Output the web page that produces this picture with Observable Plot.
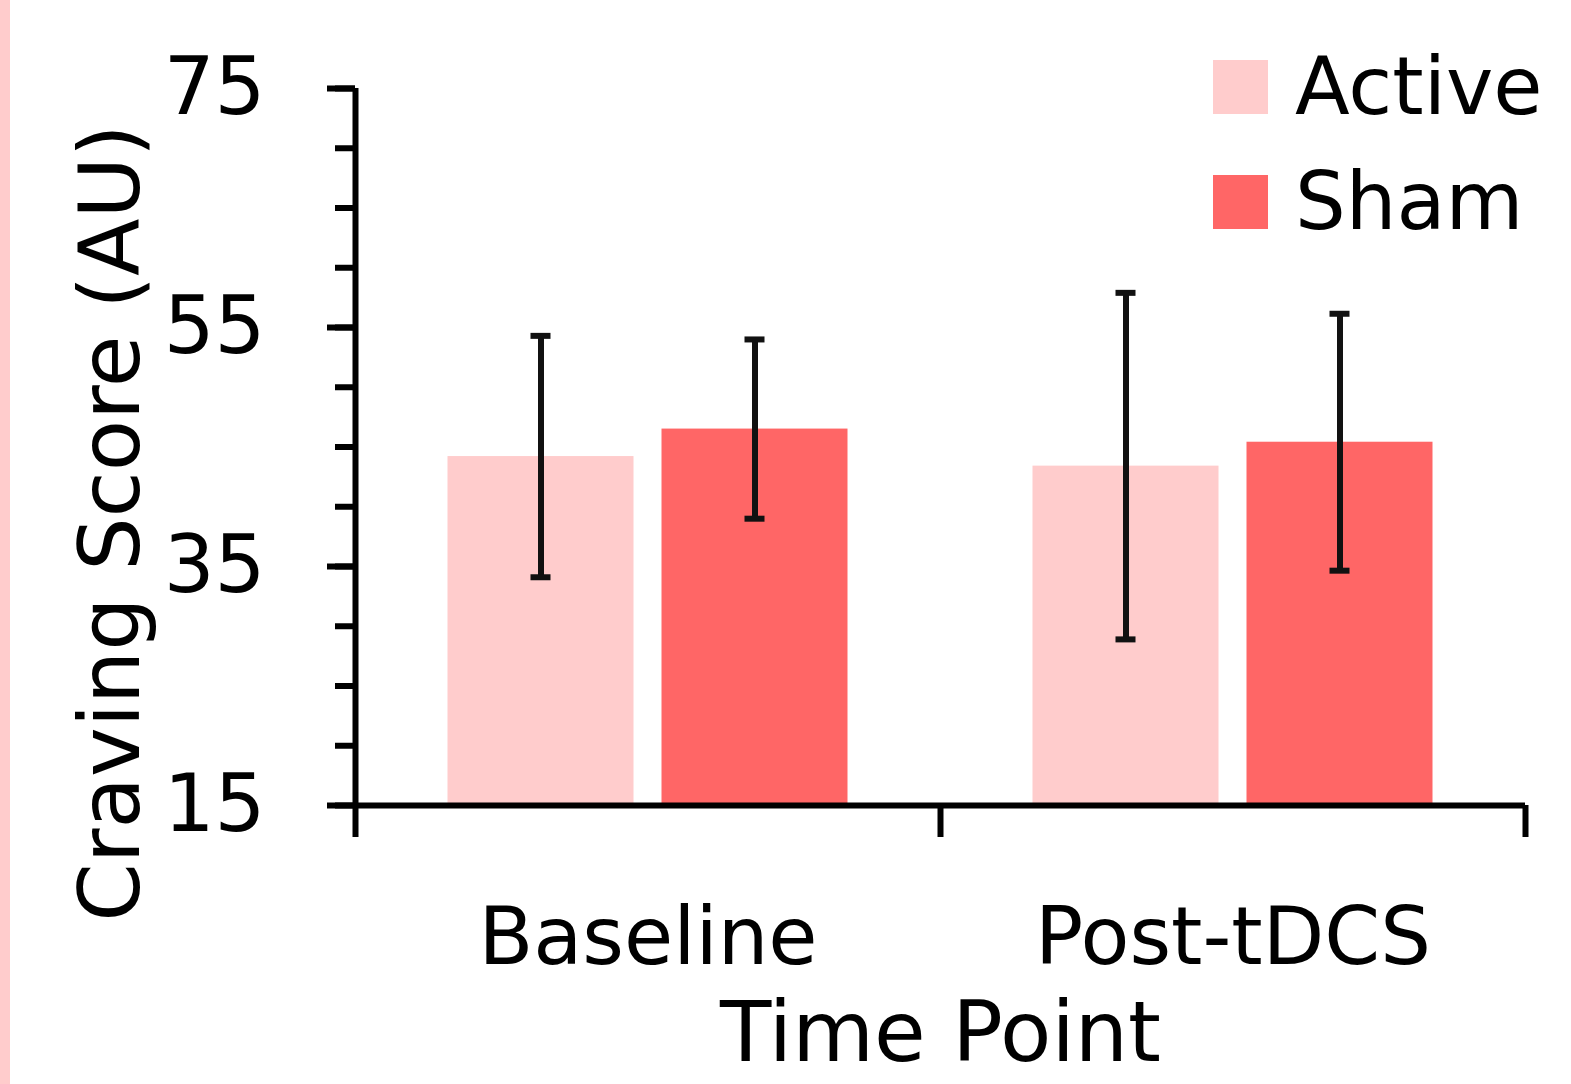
<!DOCTYPE html>
<html>
<head>
<meta charset="utf-8">
<script src="https://cdn.jsdelivr.net/npm/d3@7"></script>
<script src="https://cdn.jsdelivr.net/npm/@observablehq/plot@0.6"></script>
<style>
  html, body { margin: 0; padding: 0; background: #fff; }
  #wrap { position: relative; width: 1571px; height: 1084px; overflow: hidden; font-family: "DejaVu Sans", sans-serif; }
  #stripe { position: absolute; left: 0; top: 0; width: 10px; height: 1084px; background: #FFCCCC; }
  #chart { position: absolute; left: 0; top: 0; }
  #legend { position: absolute; left: 1213px; top: 30px; }
  .item { display: flex; align-items: center; height: 117px; margin-top: -2px; }
  .sw { width: 55px; height: 54px; margin-right: 27px; }
  .lab { font-size: 80px; color: #000; line-height: 1; }
</style>
</head>
<body>
<div id="wrap"><div id="stripe"></div><div id="chart"></div><div id="legend"></div></div>
<script>
// ---- data ----
const timePoints = ["Baseline", "Post-tDCS"];
const groups = ["Active", "Sham"];
const groupColors = ["#FFCCCC", "#FF6666"];
const activeMeans = [44.2, 43.4];
const shamMeans = [46.5, 45.4];
const activeErrors = [10.1, 14.5];
const shamErrors = [7.5, 10.75];
const yMajorTicks = [15, 35, 55, 75];
const yMinorTicks = [15, 20, 25, 30, 35, 40, 45, 50, 55, 60, 65, 70, 75];
const yLabel = "Craving Score (AU)";
const xLabel = "Time Point";

const rows = [];
timePoints.forEach((t, i) => {
  rows.push({time: t, group: groups[0], mean: activeMeans[i], err: activeErrors[i]});
  rows.push({time: t, group: groups[1], mean: shamMeans[i], err: shamErrors[i]});
});

// ---- layout ----
const W = 1571, H = 1084;
const mL = 355, mR = 46, mT = 88, mB = 279;
const bw = (W - mL - mR) / timePoints.length;   // band width
const barW = 186, gap = 28, capW = 20, lw = 6;
const outer = (bw - 2 * barW - gap) / 2;
const offA = outer + barW / 2 - bw / 2;          // Active bar centre offset from band centre (negative)
const offS = -offA;
const yMin = yMajorTicks[0], yMax = yMajorTicks[yMajorTicks.length - 1];

const byGroup = g => rows.filter(d => d.group === g);
const A = byGroup(groups[0]), S = byGroup(groups[1]);

const errMarks = (data, dx) => [
  Plot.ruleX(data, {x: "time", y1: d => d.mean - d.err, y2: d => d.mean + d.err, dx, stroke: "#111", strokeWidth: lw}),
  Plot.tickY(data, {x: "time", y: d => d.mean - d.err, dx, insetLeft: (bw - capW) / 2, insetRight: (bw - capW) / 2, stroke: "#111", strokeWidth: lw}),
  Plot.tickY(data, {x: "time", y: d => d.mean + d.err, dx, insetLeft: (bw - capW) / 2, insetRight: (bw - capW) / 2, stroke: "#111", strokeWidth: lw})
];

const chart = Plot.plot({
  width: W, height: H,
  marginLeft: mL, marginRight: mR, marginTop: mT, marginBottom: mB,
  style: {fontFamily: "DejaVu Sans, sans-serif", background: "transparent", color: "#000"},
  x: {domain: timePoints, padding: 0, axis: null},
  y: {domain: [yMin, yMax], axis: null},
  color: {domain: groups, range: groupColors},
  marks: [
    Plot.barY(A, {x: "time", y1: yMin, y2: "mean", fill: "group", insetLeft: outer, insetRight: bw - outer - barW}),
    Plot.barY(S, {x: "time", y1: yMin, y2: "mean", fill: "group", insetLeft: outer + barW + gap, insetRight: outer}),
    ...errMarks(A, offA),
    ...errMarks(S, offS),
    // y axis
    Plot.axisY(yMinorTicks, {tickSize: 20, tickFormat: () => "", strokeWidth: lw, label: null}),
    Plot.axisY(yMajorTicks, {tickSize: 28, tickPadding: 62, fontSize: 80, strokeWidth: lw, label: null}),
    Plot.ruleX([timePoints[0]], {x: d => d, dx: -bw / 2, y1: yMin, y2: yMax, strokeWidth: lw, stroke: "#000"}),
    // x axis
    Plot.ruleY([yMin], {strokeWidth: lw, stroke: "#000"}),
    Plot.ruleX(timePoints, {x: d => d, dx: -bw / 2, y1: yMin, y2: yMin, insetBottom: -32, strokeWidth: lw, stroke: "#000"}),
    Plot.ruleX([timePoints[timePoints.length - 1]], {x: d => d, dx: bw / 2, y1: yMin, y2: yMin, insetBottom: -32, strokeWidth: lw, stroke: "#000"}),
    Plot.text(timePoints, {x: d => d, text: d => d, frameAnchor: "bottom", dy: 158, fontSize: 80, fill: "#000"}),
    // axis titles
    Plot.text([xLabel], {text: d => d, frameAnchor: "bottom", dy: 255, fontSize: 84, fill: "#000"}),
    Plot.text([yLabel], {text: d => d, frameAnchor: "left", textAnchor: "middle", dx: -243, dy: 76, rotate: -90, fontSize: 84, fill: "#000"})
  ]
});
document.getElementById("chart").appendChild(chart);

// legend
const leg = document.getElementById("legend");
groups.forEach((g, i) => {
  const it = document.createElement("div");
  it.className = "item";
  const sw = document.createElement("div");
  sw.className = "sw"; sw.style.background = groupColors[i];
  const lab = document.createElement("div");
  lab.className = "lab"; lab.textContent = g;
  it.appendChild(sw); it.appendChild(lab);
  leg.appendChild(it);
});
</script>
</body>
</html>
